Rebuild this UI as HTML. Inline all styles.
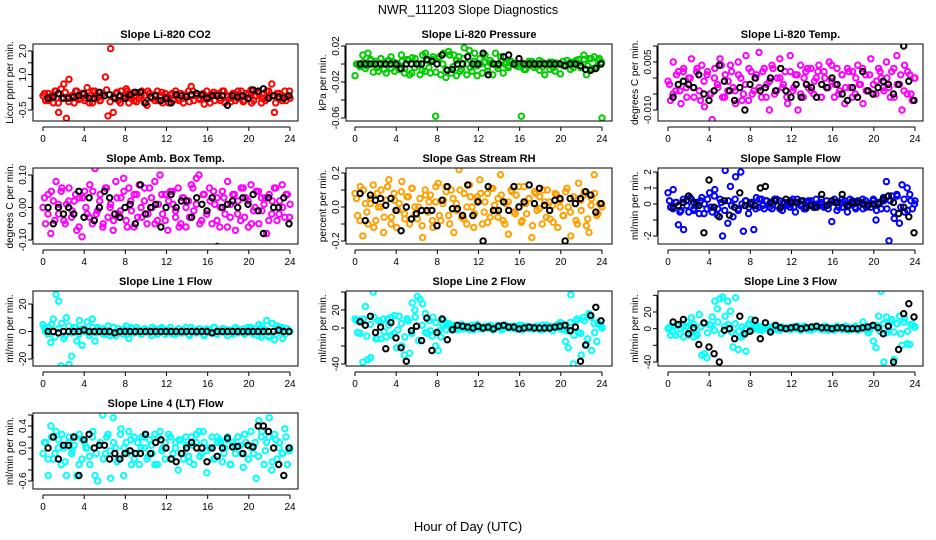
<!DOCTYPE html>
<html><head><meta charset="utf-8"><style>
html,body{margin:0;padding:0;background:#fff;}
svg{display:block;font-family:"Liberation Sans",sans-serif;}
</style></head><body>
<svg id="chart" width="936" height="540" viewBox="0 0 936 540" xmlns="http://www.w3.org/2000/svg">
<rect x="0" y="0" width="936" height="540" fill="#fff"/>
<text x="468" y="14" font-size="12.5" text-anchor="middle">NWR_111203  Slope Diagnostics</text>
<text x="468" y="531" font-size="13" text-anchor="middle">Hour of Day (UTC)</text>
</svg>
<script>
const xTicks=[0,4,8,12,16,20,24];
const co2Color=[0.1,-0.1,0.2,0.0,-0.2,0.3,-0.6,0.4,0.6,-0.85,0.8,0.1,-0.2,0.3,0.0,0.2,-0.1,0.45,0.1,-0.2,0.3,0.0,-0.1,0.2,0.9,-0.75,2.1,-0.6,0.2,-0.1,0.3,0.0,0.4,-0.2,0.1,0.25,-0.15,0.0,0.3,0.1,-0.3,0.2,0.0,-0.1,0.3,0.1,-0.2,0.2,0.0,0.15,-0.1,0.3,0.0,0.2,-0.2,0.1,0.3,0.5,-0.1,0.2,0.0,0.1,-0.25,0.3,0.0,0.15,-0.1,0.2,0.0,0.3,-0.2,0.1,0.0,0.2,-0.1,0.3,0.1,-0.15,0.2,0.0,0.35,-0.1,0.1,0.2,-0.2,0.0,0.3,0.1,0.6,-0.6,0.2,0.0,-0.1,0.3,0.1,0.0];
const co2Core=[0.2,-0.1,0.1,0.3,-0.2,0.0,0.25,-0.15,0.1,0.3,-0.05,0.2,0.0,-0.2,0.3,0.1,-0.1,0.2,0.35,-0.15,0.05,0.25,-0.2,0.1,0.3,0.0,-0.1,0.2,0.1,-0.2,0.3,0.0,0.15,-0.1,0.25,0.05,-0.2,0.2,0.3,-0.1,0.0,0.15,-0.15,0.3,0.1,-0.05,0.2,0.0,-0.2,0.25,0.1,-0.1,0.3,0.05,-0.15,0.2,0.0,0.3,-0.1,0.15,-0.2,0.1,0.25,0.0,-0.1,0.3,0.1,-0.2,0.2,0.05,-0.1,0.3];
const co2Black=[0.0,0.05,0.2,0.0,0.0,0.05,0.1,0.2,0.0,0.0,0.25,0.1,0.15,0.0,0.1,0.0,0.15,0.25,0.25,-0.2,0.05,0.1,-0.1,0.0,-0.2,0.15,0.1,0.05,0.15,0.2,0.15,0.0,0.1,0.1,0.1,-0.3,0.1,0.05,0.1,0.0,0.35,0.3,0.4,0.0,0.1,0.05,0.0,0.1];
const presColor=[-0.013,0.0,-0.002,0.01,-0.005,0.012,0.005,-0.009,0.003,-0.008,0.006,0.0,-0.01,0.004,-0.005,0.002,0.0,-0.006,0.003,-0.01,0.005,-0.012,0.007,-0.004,0.0,-0.012,0.01,-0.008,0.004,-0.01,0.008,-0.058,0.006,-0.012,0.012,-0.015,0.014,-0.01,0.01,-0.013,0.008,-0.006,0.018,-0.012,0.015,-0.008,0.012,-0.013,0.006,-0.01,0.01,-0.008,0.004,-0.012,0.012,-0.005,0.008,-0.01,0.002,-0.002,0.003,0.0,-0.002,0.0,-0.058,-0.006,0.0,-0.002,0.003,-0.004,0.0,-0.007,0.002,-0.012,0.0,-0.006,0.002,-0.008,0.0,-0.011,0.003,-0.002,0.0,0.002,-0.004,0.004,0.005,-0.004,0.01,-0.012,0.006,-0.005,0.008,-0.003,0.006,-0.06];
const presCore=[0.0,-0.003,0.002,-0.002,0.004,0.0,-0.004,0.006,-0.006,0.003,0.008,-0.008,0.0,0.01,-0.005,0.004,-0.01,0.006,0.0,-0.007,0.012,-0.004,0.005,-0.009,0.008,0.0,-0.006,0.01,-0.003,0.004,-0.008,0.006,0.0,-0.004,0.003,-0.002,0.0,0.002,-0.003,0.001,0.0,-0.002,0.003,0.0,-0.004,0.002,0.0,-0.003,0.001,-0.006,0.003,0.0,-0.002,0.004,-0.003,0.0,0.002,-0.004,0.001,0.0,-0.002,0.004,-0.006,0.002,0.0,-0.004,0.005,-0.002,0.006,-0.005,0.004,0.002];
const presBlack=[0.0,0.0,0.0,0.0,0.0,0.0,0.0,0.0,-0.005,0.0,0.0,0.0,0.0,0.005,0.003,0.0,0.01,-0.007,-0.006,0.0,0.0,0.008,0.0,0.0,0.012,-0.012,0.0,0.0,0.008,0.01,0.0,0.006,0.0,0.0,0.0,0.0,0.0,0.0,0.0,0.0,-0.002,0.0,0.0,-0.002,-0.006,-0.007,-0.005,0.0];
const tempColor=[-0.001,-0.007,0.005,-0.004,0.002,-0.008,0.003,-0.003,0.000,0.006,-0.006,0.002,-0.004,0.004,-0.009,0.001,-0.005,-0.013,0.003,-0.002,0.006,-0.006,0.001,-0.004,0.004,-0.003,-0.008,0.005,0.000,-0.005,0.007,-0.007,0.002,-0.004,0.001,0.008,-0.006,0.003,-0.002,-0.010,0.004,-0.005,0.000,0.006,-0.003,0.002,-0.008,0.007,-0.004,0.001,-0.010,0.004,-0.006,0.002,-0.003,0.003,-0.005,0.000,0.004,-0.006,0.002,-0.003,0.005,-0.001,-0.006,0.003,-0.004,0.001,-0.008,0.003,-0.003,0.002,-0.005,0.004,-0.002,-0.008,0.001,-0.004,0.006,-0.002,-0.005,0.003,0.000,-0.004,0.005,-0.003,0.002,-0.006,0.007,-0.002,-0.010,0.004,-0.005,0.001,-0.007,0.000];
const tempCore=[-0.002,-0.005,0.001,-0.004,0.002,-0.006,0.000,-0.003,0.003,-0.007,-0.001,0.002,-0.005,0.000,-0.003,0.004,-0.006,-0.001,0.002,-0.004,0.001,-0.007,-0.002,0.003,-0.005,0.000,-0.003,0.002,-0.006,-0.001,0.003,-0.004,0.000,-0.002,-0.006,0.002,-0.003,0.001,-0.005,0.000,0.003,-0.004,-0.001,0.002,-0.006,0.000,-0.003,0.004,-0.002,-0.005,0.001,-0.003,0.002,-0.006,0.000,-0.002,0.003,-0.004,0.001,-0.005,-0.001,0.002,-0.003,0.000,-0.006,0.003,-0.002,0.001,-0.004,0.002,-0.005,0.000];
const tempBlack=[-0.006,-0.002,-0.001,-0.002,-0.003,0.001,-0.005,-0.007,-0.004,0.004,-0.001,-0.004,-0.007,-0.003,-0.010,-0.002,0.000,-0.004,-0.003,0.000,-0.004,0.003,-0.004,-0.006,-0.002,-0.006,-0.002,-0.003,-0.006,-0.002,-0.003,0.000,-0.002,-0.005,-0.007,-0.003,-0.006,0.002,-0.004,-0.005,-0.003,-0.001,-0.002,-0.005,-0.002,0.010,-0.001,-0.007];
const ambColor=[0.0,-0.05,0.04,-0.08,0.02,0.08,-0.02,0.05,-0.04,0.01,0.06,-0.03,0.02,-0.07,0.03,-0.09,0.05,-0.02,0.07,-0.05,0.12,-0.01,0.04,-0.06,0.06,-0.03,0.01,-0.07,0.08,-0.02,0.03,0.09,-0.04,0.06,-0.01,-0.06,0.04,0.07,-0.03,0.02,-0.05,0.06,0.00,0.08,-0.04,0.10,-0.02,0.04,-0.07,0.05,0.01,-0.03,0.06,-0.05,0.03,-0.06,0.02,0.07,-0.01,0.09,0.10,-0.04,0.04,-0.02,0.06,-0.05,0.01,0.03,-0.06,0.05,-0.02,0.08,-0.03,0.04,-0.07,0.02,-0.04,0.06,0.03,-0.06,0.07,-0.01,0.05,-0.05,0.03,0.01,-0.08,0.04,-0.02,0.06,-0.04,0.02,0.07,-0.03,0.04,0.01];
const ambCore=[0.03,-0.02,0.05,-0.04,0.01,0.06,-0.05,0.02,-0.01,0.04,-0.06,0.03,0.0,-0.03,0.05,-0.02,0.02,-0.05,0.06,0.0,-0.04,0.03,-0.01,0.05,-0.06,0.02,0.04,-0.03,0.0,0.06,-0.02,0.03,-0.05,0.01,0.04,-0.04,0.02,0.05,-0.01,-0.06,0.03,0.0,-0.03,0.06,0.01,-0.05,0.04,-0.02,0.02,0.05,-0.04,0.0,0.03,-0.06,0.01,0.04,-0.02,0.06,-0.03,0.02,-0.05,0.0,0.05,-0.01,0.03,-0.04,0.02,0.06,-0.02,0.0,0.04,-0.03];
const ambBlack=[0.0,-0.05,0.0,-0.02,0.0,-0.02,0.05,-0.03,0.03,-0.04,0.0,0.05,0.03,-0.02,-0.03,0.0,0.01,-0.05,0.07,-0.02,0.0,0.01,-0.06,0.0,0.04,0.0,0.02,0.02,-0.03,0.03,0.01,-0.01,0.03,-0.12,0.0,0.01,0.02,0.0,0.03,0.01,0.04,-0.01,-0.08,0.03,0.0,0.0,0.03,-0.05];
const rhColor=[0.08,-0.05,0.12,-0.17,0.02,-0.1,0.05,0.13,-0.08,0.0,0.1,-0.15,0.04,0.16,-0.06,0.08,-0.12,0.02,0.15,-0.04,0.06,-0.1,0.11,0.0,-0.07,0.05,-0.18,0.1,-0.03,0.07,-0.12,0.03,0.14,-0.08,0.04,0.12,-0.05,0.1,-0.15,0.02,0.22,-0.06,0.08,-0.1,0.13,0.0,-0.04,0.06,0.16,-0.1,0.03,0.08,-0.06,0.11,-0.02,0.05,0.19,-0.08,0.02,-0.16,0.1,-0.03,0.07,0.0,-0.09,0.12,-0.04,0.05,-0.18,0.09,-0.02,0.06,-0.1,0.03,0.1,-0.07,0.01,0.08,-0.12,0.04,-0.05,0.09,0.0,-0.17,0.06,-0.08,0.14,-0.02,0.07,-0.11,-0.15,0.05,0.19,-0.05,0.02,0.0];
const rhCore=[0.05,-0.08,0.1,-0.03,0.02,-0.12,0.08,0.0,-0.06,0.12,-0.1,0.04,-0.02,0.09,-0.07,0.06,0.11,-0.04,0.0,-0.11,0.07,0.03,-0.08,0.12,-0.05,0.02,0.09,-0.1,0.05,-0.02,0.1,-0.07,0.0,0.06,-0.12,0.04,0.08,-0.03,-0.09,0.11,0.01,-0.06,0.07,-0.1,0.03,0.09,-0.04,0.12,-0.08,0.02,0.05,-0.11,0.08,-0.01,0.1,-0.06,0.03,-0.09,0.07,0.0,-0.05,0.11,-0.03,0.06,-0.1,0.04,0.09,-0.07,0.01,0.08,-0.04,0.02];
const rhBlack=[0.08,-0.08,0.07,0.04,0.05,0.01,0.05,-0.02,-0.14,0.0,-0.07,-0.04,-0.02,-0.02,-0.02,-0.11,0.04,0.12,-0.01,-0.01,-0.05,0.13,-0.05,0.03,-0.2,0.12,-0.02,-0.02,0.03,-0.02,0.12,0.0,0.03,0.13,0.02,0.11,0.01,-0.02,0.04,0.05,-0.2,0.05,0.02,0.05,0.09,0.07,-0.03,0.02];
const sampColor=[0.7,-0.2,0.9,0.1,-1.3,-0.4,-1.6,0.2,-0.5,0.3,-0.3,0.1,-0.6,0.4,0.0,-0.3,0.7,-0.5,0.9,-0.7,0.3,-2.0,2.1,-1.2,1.1,-0.8,1.7,-0.4,2.0,-1.7,0.2,-0.6,0.1,-1.6,0.4,-0.2,0.3,-0.3,0.2,0.0,-0.3,0.3,-0.1,0.2,-0.4,0.1,0.0,-0.2,0.3,-0.5,0.1,-0.1,0.2,-0.3,0.2,0.0,-0.2,0.3,-0.1,0.1,-0.2,0.2,0.0,-1.1,0.3,-0.4,0.1,-0.2,0.2,-0.5,0.3,0.0,-0.2,0.2,0.1,-0.3,0.2,0.0,-0.2,0.3,-1.0,0.1,-0.3,0.2,1.4,-2.3,0.5,-0.9,0.6,-1.2,1.2,-0.5,1.0,0.6,-0.3,0.2];
const sampCore=[0.2,-0.3,0.1,-0.5,0.3,-0.1,0.4,-0.4,0.0,0.2,-0.6,0.3,-0.2,0.5,-0.3,0.1,-0.4,0.2,-0.1,0.3,-0.3,0.0,0.2,-0.2,0.1,-0.3,0.3,-0.1,0.2,-0.2,0.0,0.3,-0.3,0.1,-0.1,0.2,-0.2,0.3,0.0,-0.3,0.1,0.2,-0.2,0.0,0.3,-0.1,-0.3,0.2,0.1,-0.2,0.3,0.0,-0.1,0.2,-0.3,0.1,0.3,-0.2,0.0,0.2,-0.4,0.1,0.4,-0.3,0.2,-0.5,0.5,-0.2,0.3,-0.4,0.2,0.0];
const sampBlack=[-0.2,-0.1,0.1,0.5,0.1,-0.1,-1.8,1.5,-0.2,-0.8,0.2,-0.7,-0.2,0.7,-0.1,0.0,-0.1,1.0,1.1,0.1,0.2,-0.2,0.3,0.1,0.1,0.2,-0.2,-0.1,-0.2,0.6,-0.1,0.2,0.1,0.6,-0.1,0.1,0.1,0.0,-0.1,0.0,0.0,0.3,0.5,0.1,-0.6,-0.2,-0.8,-1.8];
const line1Color=[5,0,3,-8,9,27,22,-25,-5,10,-24,-18,3,-7,8,-10,2,7,-1,9,-7,3,0,2,-2,4,-1,3,-3,2,0,-2,4,-5,2,-1,3,0,-2,2,1,-1,3,0,-2,2,0,1,-1,3,-2,0,2,-1,1,0,-2,3,0,-1,2,0,-3,2,1,-1,3,-2,0,2,-1,1,0,-2,3,-1,0,2,-1,1,3,-2,0,5,-4,2,8,-3,6,-6,4,0,3,-2,2,0];
const line1Core=[3,-2,5,-4,2,6,-3,4,-1,3,-2,2,0,-3,3,-1,2,-2,1,-3,3,0,-1,2,-2,3,-1,1,-2,2,0,-3,2,-1,3,-2,1,0,-2,2,-1,3,-3,1,0,2,-2,1,-1,3,-2,0,2,-3,1,-1,2,0,-2,3,-1,2,-3,4,1,-4,6,-2,3,-5,2,0];
const line1Black=[0,0,-1,0,0,0,0,1,0,0,0,0,0,-1,0,0,0,0,0,0,0,0,0,0,0,0,0,0,0,0,0,0,-1,0,0,0,0,0,0,0,0,0,0,0,0,1,0,0];
const line2Color=[10,-5,9,-38,24,-35,-33,40,-12,8,-12,10,-10,3,12,-6,-22,13,-20,-30,10,-28,28,20,35,32,27,16,-6,-3,12,-20,-25,-10,9,3,5,0,3,2,-1,4,0,2,-2,3,0,4,1,-1,2,0,3,-2,1,2,0,-1,3,1,0,2,-1,1,3,0,2,-1,1,0,2,-2,3,1,0,2,-3,1,4,6,-2,-15,-22,37,-40,8,-5,-30,12,-18,16,-25,5,-15,3,0];
const line2Core=[8,-6,10,-9,4,12,-12,6,-4,10,-8,14,-2,5,-10,8,-6,12,-14,3,-5,8,-9,6,-3,4,-2,3,0,-2,3,-1,2,0,-2,3,-1,1,0,2,-1,3,-2,1,0,2,-1,3,-2,0,1,-1,2,0,-2,3,-1,1,2,-1,4,-3,6,-8,10,-6,8,-12,12,-5,6,2];
const line2Black=[7,3,13,-5,1,-23,6,-11,-22,-37,-3,2,-14,11,-25,-5,10,-13,-2,3,2,1,0,2,0,1,-1,2,3,1,1,-1,0,1,0,0,0,0,1,2,3,-3,1,-37,-19,14,23,8];
const line3Color=[0,-8,2,-8,5,0,-10,3,-8,13,-10,-6,17,-32,-30,-35,5,14,33,24,36,38,15,33,21,-22,37,-25,-10,-8,-27,6,11,2,0,3,-2,1,0,2,-1,3,0,-2,2,1,0,-1,2,0,3,-1,0,2,1,-2,0,3,1,0,-1,2,0,1,-2,3,0,1,-1,2,0,1,3,-2,0,8,-1,-5,2,-15,-23,15,45,-40,14,-2,11,-37,6,15,-20,12,-18,-19,5,2];
const line3Core=[2,-4,4,-6,3,8,-3,5,-8,2,6,-5,4,-2,8,-6,3,5,-4,6,-3,2,0,4,-2,3,-1,2,0,-2,3,-1,2,0,1,-1,2,0,-2,3,-1,1,0,2,-1,3,-2,1,0,2,-1,3,-2,0,1,-1,2,0,-2,3,4,-3,6,-5,8,-4,6,-6,8,-3,5,2];
const line3Black=[8,5,11,-6,1,-19,7,-22,-30,-40,-2,0,-12,15,-6,-3,10,-12,7,-4,4,1,0,1,2,0,1,2,3,1,1,0,1,1,0,0,0,1,2,4,1,-6,3,-40,-25,18,30,14];
const line4Color=[-0.1,0.1,-0.5,0.4,-0.2,0.3,0.15,-0.3,0.0,-0.5,0.2,-0.1,0.05,-0.5,0.25,-0.2,0.1,0.0,-0.3,0.2,-0.5,-0.6,0.1,0.6,-0.1,0.25,-0.55,0.55,0.0,-0.2,0.35,-0.5,0.1,0.3,-0.3,0.2,-0.1,-0.3,0.2,0.0,-0.2,0.15,-0.1,0.25,-0.3,0.3,0.0,-0.2,-0.85,0.2,-0.1,0.1,-0.4,0.15,-0.2,0.05,-0.15,0.2,-0.3,0.25,0.3,-0.1,0.1,-0.45,0.0,0.2,-0.2,0.1,0.15,-0.25,0.0,0.2,-0.3,0.1,-0.1,0.2,0.05,-0.35,0.1,-0.2,0.3,-0.1,-0.55,0.5,0.2,-0.3,0.1,0.55,-0.4,0.25,-0.2,0.1,-0.1,0.35,-0.3,0.0];
const line4Core=[0.1,-0.2,0.2,-0.1,0.0,0.25,-0.25,0.1,-0.05,0.2,-0.3,0.15,0.0,-0.15,0.3,-0.1,0.05,-0.2,0.2,-0.05,0.1,-0.25,0.25,0.0,-0.1,0.15,-0.2,0.1,0.0,0.2,-0.15,0.05,-0.3,0.2,-0.05,0.1,0.25,-0.2,0.0,0.15,-0.1,0.2,-0.25,0.05,0.1,-0.15,0.3,-0.05,0.0,-0.2,0.2,0.1,-0.1,0.15,-0.3,0.05,0.2,-0.1,0.25,-0.2,0.0,0.1,-0.15,0.3,-0.05,0.2,-0.25,0.15,0.0,-0.1,0.2,-0.05];
const line4Black=[0.0,0.2,-0.2,0.05,0.05,0.2,-0.5,0.15,0.25,0.0,0.05,0.05,-0.2,-0.1,-0.2,-0.1,-0.05,-0.1,-0.1,0.25,-0.1,0.1,0.15,0.0,-0.2,-0.25,-0.1,0.0,0.1,0.0,0.0,-0.25,0.0,-0.15,0.0,0.18,0.02,0.03,-0.1,0.05,0.02,0.4,0.4,0.3,0.0,-0.3,-0.5,0.0];

const cols=[{x0:33,x1:298,h0:43,h24:290},{x0:346,x1:612,h0:355,h24:602},{x0:658,x1:923,h0:668,h24:915}];
const rows=[{y0:44,y1:121},{y0:168,y1:244},{y0:291,y1:366},{y0:413,y1:489}];
const panels=[
 {name:'co2',title:'Slope Li-820 CO2',ylab:'Licor ppm per min.',c:0,r:0,color:'#ff0000',vals:co2Color,core:co2Core,blk:co2Black,ra:[2.0,51],rb:[-0.5,110],ticks:[-0.5,0,0.5,1,1.5,2],labels:{'-0.5':'-0.5','1':'1.0','2':'2.0'}},
 {name:'pressure',title:'Slope Li-820 Pressure',ylab:'kPa per min.',c:1,r:0,color:'#00cc00',vals:presColor,core:presCore,blk:presBlack,ra:[0.02,46],rb:[-0.06,118],ticks:[-0.06,-0.04,-0.02,0,0.02],labels:{'0.02':'0.02','-0.02':'-0.02','-0.06':'-0.06'}},
 {name:'temp',title:'Slope Li-820 Temp.',ylab:'degrees C per min.',c:2,r:0,color:'#ff00ff',vals:tempColor,core:tempCore,blk:tempBlack,ra:[0.005,62],rb:[-0.010,110],ticks:[-0.010,-0.005,0,0.005,0.010],labels:{'0.005':'0.005','-0.01':'-0.010'}},
 {name:'amb-box-temp',title:'Slope Amb. Box Temp.',ylab:'degrees C per min.',c:0,r:1,color:'#ff00ff',vals:ambColor,core:ambCore,blk:ambBlack,ra:[0.10,175],rb:[-0.10,240],ticks:[-0.1,-0.05,0,0.05,0.1],labels:{'0.1':'0.10','0':'0.00','-0.1':'-0.10'}},
 {name:'gas-stream-rh',title:'Slope Gas Stream RH',ylab:'percent per min.',c:1,r:1,color:'#ffa000',vals:rhColor,core:rhCore,blk:rhBlack,ra:[0.2,173],rb:[-0.2,241],ticks:[-0.2,-0.1,0,0.1,0.2],labels:{'0.2':'0.2','0':'0.0','-0.2':'-0.2'}},
 {name:'sample-flow',title:'Slope Sample Flow',ylab:'ml/min per min.',c:2,r:1,color:'#0000ff',vals:sampColor,core:sampCore,blk:sampBlack,ra:[2,172],rb:[-2,236],ticks:[-2,-1,0,1,2],labels:{'2':'2','1':'1','0':'0','-2':'-2'}},
 {name:'line1-flow',title:'Slope Line 1 Flow',ylab:'ml/min per min.',c:0,r:2,color:'#00ffff',vals:line1Color,core:line1Core,blk:line1Black,ra:[20,304],rb:[-20,359],ticks:[-20,-10,0,10,20],labels:{'20':'20','0':'0','-20':'-20'}},
 {name:'line2-flow',title:'Slope Line 2 Flow',ylab:'ml/min per min.',c:1,r:2,color:'#00ffff',vals:line2Color,core:line2Core,blk:line2Black,ra:[20,310],rb:[-40,364],ticks:[-40,-20,0,20,40],labels:{'20':'20','0':'0','-40':'-40'}},
 {name:'line3-flow',title:'Slope Line 3 Flow',ylab:'ml/min per min.',c:2,r:2,color:'#00ffff',vals:line3Color,core:line3Core,blk:line3Black,ra:[20,312],rb:[-40,362],ticks:[-40,-20,0,20,40],labels:{'20':'20','0':'0','-40':'-40'}},
 {name:'line4-flow',title:'Slope Line 4 (LT) Flow',ylab:'ml/min per min.',c:0,r:3,color:'#00ffff',vals:line4Color,core:line4Core,blk:line4Black,ra:[0.4,426],rb:[-0.6,481],ticks:[-0.6,-0.4,-0.2,0,0.2,0.4,0.6],labels:{'0.4':'0.4','0':'0.0','-0.6':'-0.6'}}
];
const NS='http://www.w3.org/2000/svg';
const svg=document.getElementById('chart');
function mk(tag,attrs,parent){const e=document.createElementNS(NS,tag);for(const k in attrs)e.setAttribute(k,attrs[k]);(parent||svg).appendChild(e);return e;}
panels.forEach(p=>{
 const C=cols[p.c],R=rows[p.r];
 const g=mk('g',{});
 
 
 const xs=h=>C.h0+(C.h24-C.h0)*h/24;
 const ys=v=>p.ra[1]+(v-p.ra[0])*(p.rb[1]-p.ra[1])/(p.rb[0]-p.ra[0]);
 const t=mk('text',{x:(C.x0+C.x1)/2,y:R.y0-6,'font-size':'11','font-weight':'bold','text-anchor':'middle'},g);
 t.textContent=p.title;
 
 
 const clip=mk('clipPath',{id:'clip-'+p.name},g);
 mk('rect',{x:C.x0,y:R.y0,width:C.x1-C.x0,height:R.y1-R.y0},clip);
 const pts=mk('g',{'clip-path':'url(#clip-'+p.name+')'},g);
 p.core.forEach((v,i)=>{
  const h=0.15+i*23.8/(p.core.length-1);
  const c=mk('circle',{cx:xs(h).toFixed(1),cy:ys(v).toFixed(1),r:2.7,fill:'none',stroke:p.color,'stroke-width':2},pts);
  
  
 });
 p.vals.forEach((v,i)=>{
  const h=i*24/(p.vals.length-1);
  const c=mk('circle',{cx:xs(h).toFixed(1),cy:ys(v).toFixed(1),r:2.7,fill:'none',stroke:p.color,'stroke-width':2},pts);
  
  
 });
 p.blk.forEach((v,i)=>{
  const h=0.5+i*23.4/(p.blk.length-1);
  const c=mk('circle',{cx:xs(h).toFixed(1),cy:ys(v).toFixed(1),r:2.7,fill:'none',stroke:'#000','stroke-width':2},pts);
  
  
 });
 const box=mk('rect',{x:C.x0,y:R.y0,width:C.x1-C.x0,height:R.y1-R.y0,fill:'none',stroke:'#000','stroke-width':1},g);
 
 
 const xa=mk('g',{},g);
 
 
 mk('line',{x1:xs(0),x2:xs(24),y1:R.y1+6,y2:R.y1+6,stroke:'#000'},xa);
 xTicks.forEach(h=>{
  mk('line',{x1:xs(h),x2:xs(h),y1:R.y1+6,y2:R.y1+10,stroke:'#000'},xa);
  const l=mk('text',{x:xs(h),y:R.y1+21,'font-size':'10','text-anchor':'middle'},xa);
  l.textContent=h;
  
  
 });
 const ya=mk('g',{},g);
 
 
 const tx=C.x0-1;
 const tv=p.ticks.map(ys).filter(y=>y>=R.y0-8&&y<=R.y1+8);
 mk('line',{x1:tx,x2:tx,y1:Math.min(...tv),y2:Math.max(...tv),stroke:'#000'},ya);
 p.ticks.forEach(v=>{
  const y=ys(v); if(y<R.y0-8||y>R.y1+8)return;
  mk('line',{x1:tx-4,x2:tx,y1:y,y2:y,stroke:'#000'},ya);
  const key=String(+v.toFixed(4));
  if(p.labels[key]!==undefined){
   const l=mk('text',{x:0,y:0,'font-size':'10','text-anchor':'middle',transform:`translate(${C.x0-7},${y}) rotate(-90)`},ya);
   l.textContent=p.labels[key];
   
   
  }
 });
 const yl=mk('text',{x:0,y:0,'font-size':'10','text-anchor':'middle',transform:`translate(${C.x0-20},${(R.y0+R.y1)/2}) rotate(-90)`},g);
 yl.textContent=p.ylab;
 
 
});
</script>
</body></html>
